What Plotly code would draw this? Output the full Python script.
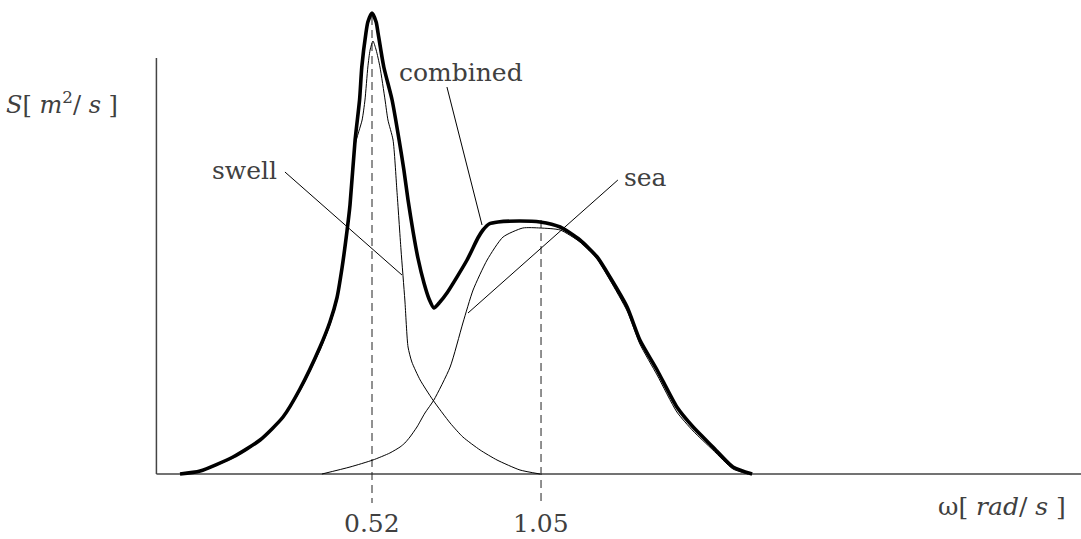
import plotly.graph_objects as go

# ---- data (omega in rad/s, S in arbitrary spectral units) ----
comb_w = [-0.082, -0.019, 0.084, 0.169, 0.241, 0.294, 0.357, 0.388, 0.410, 0.426, 0.442, 0.451,
          0.467, 0.481, 0.488, 0.501, 0.507, 0.520, 0.533, 0.539, 0.557, 0.583, 0.605,
          0.620, 0.633, 0.649, 0.664, 0.683, 0.699, 0.714, 0.733, 0.755, 0.818, 0.852, 0.868,
          0.887, 0.915, 0.984, 1.047, 1.110, 1.172, 1.226, 1.266, 1.320, 1.360, 1.414, 1.476, 1.527,
          1.589, 1.652, 1.712]
comb_s = [0.00, 0.03, 0.17, 0.34, 0.57, 0.85, 1.27, 1.52, 1.76, 2.06, 2.44, 2.69,
          3.34, 3.74, 4.07, 4.41, 4.52, 4.61, 4.52, 4.41, 4.07, 3.74, 3.34,
          3.04, 2.74, 2.42, 2.16, 1.91, 1.75, 1.66, 1.72, 1.81, 2.14, 2.36, 2.44,
          2.50, 2.52, 2.53, 2.52, 2.47, 2.34, 2.17, 1.97, 1.67, 1.34, 1.04, 0.67, 0.47,
          0.27, 0.07, 0.00]

swell_w = [-0.082, -0.019, 0.084, 0.169, 0.241, 0.294, 0.357, 0.388, 0.410, 0.426, 0.442, 0.467,
           0.489, 0.498, 0.507, 0.514, 0.523, 0.533, 0.545, 0.561, 0.570, 0.586, 0.598, 0.611,
           0.623, 0.633, 0.645, 0.671, 0.711, 0.765, 0.805, 0.859, 0.912, 0.984, 1.047]
swell_s = [0.00, 0.025, 0.16, 0.33, 0.56, 0.83, 1.24, 1.49, 1.73, 2.03, 2.40, 3.29,
           3.54, 3.74, 4.07, 4.24, 4.33, 4.24, 4.07, 3.74, 3.54, 3.34, 2.84, 2.24,
           1.74, 1.27, 1.12, 0.94, 0.74, 0.51, 0.37, 0.24, 0.14, 0.04, 0.00]

sea_w = [0.363, 0.451, 0.523, 0.576, 0.608, 0.623, 0.639, 0.661, 0.686, 0.714, 0.765, 0.805,
         0.837, 0.881, 0.931, 0.993, 1.047, 1.110, 1.172, 1.226, 1.266, 1.320, 1.360, 1.414,
         1.476, 1.527, 1.589, 1.652, 1.699]
sea_s = [0.00, 0.07, 0.14, 0.21, 0.27, 0.31, 0.37, 0.47, 0.61, 0.74, 1.07, 1.51,
         1.84, 2.14, 2.37, 2.46, 2.46, 2.44, 2.32, 2.15, 1.94, 1.63, 1.30, 0.99,
         0.62, 0.43, 0.24, 0.05, 0.00]

peak_w = [0.52, 1.05]          # dashed reference lines / tick values
peak_top = [4.57, 2.54]
tick_text = ["0.52", "1.05"]

labels = ["swell", "combined", "sea"]
label_w = [0.119, 0.799, 1.379]
label_s = [3.04, 4.02, 2.97]
leader_from_w = [0.247, 0.755, 1.291]
leader_from_s = [3.02, 3.87, 2.94]
leader_to_w = [0.614, 0.865, 0.821]
leader_to_s = [1.99, 2.49, 1.61]

x_axis_start = -0.156
x_axis_end = 2.75
y_axis_top = 4.16

# ---- figure ----
W, H = 1081, 539
fig = go.Figure()

FONT = "DejaVu Serif"
FS = 25
TXT = "#404040"

# axes
fig.add_trace(go.Scatter(x=[x_axis_start, x_axis_start], y=[y_axis_top, 0], mode="lines",
                         line=dict(color="#444", width=1.5), hoverinfo="skip"))
fig.add_trace(go.Scatter(x=[x_axis_start, x_axis_end], y=[0, 0], mode="lines",
                         line=dict(color="#444", width=1.5), hoverinfo="skip"))

# dashed reference lines
for w, top in zip(peak_w, peak_top):
    fig.add_trace(go.Scatter(x=[w, w], y=[top, -0.29], mode="lines",
                             line=dict(color="#222", width=1, dash="8px,5px"), hoverinfo="skip"))

# curves
fig.add_trace(go.Scatter(x=swell_w, y=swell_s, mode="lines",
                         line=dict(color="black", width=1, shape="spline", smoothing=0.6)))
fig.add_trace(go.Scatter(x=sea_w, y=sea_s, mode="lines",
                         line=dict(color="black", width=1, shape="spline", smoothing=0.6)))
fig.add_trace(go.Scatter(x=comb_w, y=comb_s, mode="lines",
                         line=dict(color="black", width=3.6, shape="spline", smoothing=0.6)))

# leader lines + labels
for i in range(len(labels)):
    fig.add_trace(go.Scatter(x=[leader_from_w[i], leader_to_w[i]],
                             y=[leader_from_s[i], leader_to_s[i]], mode="lines",
                             line=dict(color="black", width=1), hoverinfo="skip"))
    fig.add_annotation(x=label_w[i], y=label_s[i], text=labels[i], showarrow=False,
                       font=dict(family=FONT, size=FS, color=TXT),
                       xanchor="center", yanchor="middle")

# tick labels
for w, t in zip(peak_w, tick_text):
    fig.add_annotation(x=w, y=-0.49, text=t, showarrow=False,
                       font=dict(family=FONT, size=FS, color=TXT),
                       xanchor="center", yanchor="middle")

# axis titles
fig.add_annotation(x=2.496, y=-0.32,
                   text="ω[ <i>rad</i>/ <i>s</i> ]",
                   showarrow=False, font=dict(family=FONT, size=FS, color=TXT),
                   xanchor="center", yanchor="middle")
fig.add_annotation(x=-0.452, y=3.71,
                   text="<i>S</i>[ <i>m</i><sup>2</sup>/ <i>s</i> ]",
                   showarrow=False, font=dict(family=FONT, size=24, color=TXT),
                   xanchor="center", yanchor="middle")

px_per_w = 318.9
x0 = 0.52 - 372 / px_per_w
x1 = 0.52 + (W - 372) / px_per_w
fig.update_layout(
    width=W, height=H, autosize=False,
    margin=dict(l=0, r=0, t=0, b=0),
    paper_bgcolor="white", plot_bgcolor="white",
    showlegend=False,
    font=dict(family=FONT),
    xaxis=dict(range=[x0, x1], visible=False, fixedrange=True),
    yaxis=dict(range=[(474 - H) / 100, 474 / 100], visible=False, fixedrange=True),
)

fig.write_html("out.html", post_script="document.body.style.margin='0';",
               config={"displayModeBar": False})
